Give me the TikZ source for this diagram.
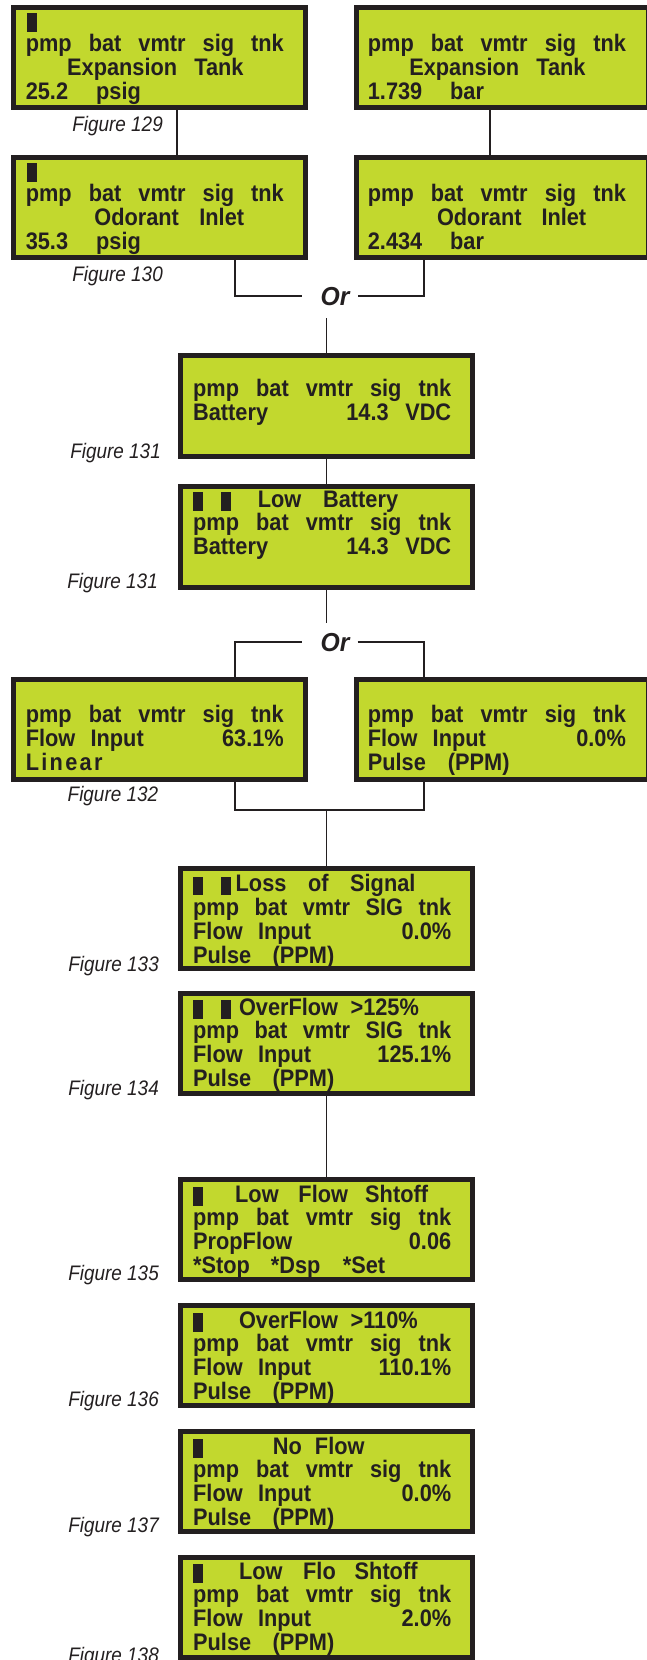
\documentclass[tikz,border=0pt]{standalone}
\usepackage{fontspec}
\setmainfont{Liberation Sans}
\newfontfamily\lcdfont{Liberation Sans}[FakeStretch=0.91]
\newfontfamily\figfont{Liberation Sans}[FakeStretch=0.9]
\newfontfamily\orfont{Liberation Sans}[FakeStretch=0.95]
\usetikzlibrary{calc}
\definecolor{lcdgreen}{RGB}{194,216,46}
\definecolor{ink}{RGB}{35,31,32}
\newcommand\lcdat[2]{\rlap{\hspace*{#1pt}#2}}
\newcommand\lcdcur{\rule[-3.5pt]{10pt}{18.5pt}}
\newcommand\lcdlines[4]{\vtop{\baselineskip=23.8pt\lineskiplimit=-50pt\lineskip=0pt
 \hbox to 258pt{#1}\hbox to 258pt{#2}\hbox to 258pt{#3}\hbox to 258pt{#4}}}
\newcommand\pmpline{pmp\hfil bat\hfil vmtr\hfil sig\hfil tnk}
\newcommand\pmpSIG{pmp\hfil bat\hfil vmtr\hfil SIG\hfil tnk}
\newcommand\flowline[1]{\lcdat{0}{Flow}\lcdat{64.8}{Input}\hfil #1}
\newcommand\pulseline{\lcdat{0}{Pulse}\lcdat{79.5}{(PPM)}\hfil}
\newcommand\linearsp{L\kern2.3pt i\kern2.3pt n\kern2.3pt e\kern2.3pt a\kern2.3pt r}
\tikzset{
  lcdbox/.style={draw=ink, fill=lcdgreen, line width=5pt, minimum width=292pt,
    minimum height=100pt, inner sep=0pt, anchor=north west},
  lcdtxt/.style={inner sep=0pt, anchor=base west, text=ink,
    font=\lcdfont\bfseries\fontsize{23.9}{23.8}\selectfont},
  figlbl/.style={inner sep=0pt, anchor=base east, text=ink,
    font=\figfont\itshape\fontsize{21}{21}\selectfont},
  orlbl/.style={inner sep=0pt, text=ink, font=\orfont\bfseries\itshape\fontsize{26}{26}\selectfont,
    text height=18pt, text depth=0pt, minimum width=55.6pt},
  conn/.style={draw=ink, line width=1.8pt}
}
\begin{document}
\begin{tikzpicture}[x=1pt,y=-1pt]
\useasboundingbox (0,0) rectangle (647,1660);
\clip (0,0) rectangle (647,1660);
\fill[white] (0,0) rectangle (647,1660);

\coordinate (xa) at (176.6,0);
\coordinate (xb) at (489.8,0);
\coordinate (xl) at (235,0);
\coordinate (xr) at (424,0);
\coordinate (jn) at (326.5,810);

% boxes (anchor is the outer corner of the border)
\node[lcdbox] (L1) at (11,5) {};
\node[lcdbox] (R1) at (354,5) {};
\node[lcdbox] (L2) at (11,155) {};
\node[lcdbox] (R2) at (354,155) {};
\node[lcdbox, minimum height=101pt] (B3) at (178,353) {};
\node[lcdbox, minimum height=101pt] (B4) at (178,484) {};
\node[lcdbox] (L5) at (11,677) {};
\node[lcdbox] (R5) at (354,677) {};
\node[lcdbox] (B6) at (178,866) {};
\node[lcdbox] (B7) at (178,991) {};
\node[lcdbox] (B8) at (178,1177) {};
\node[lcdbox] (B9) at (178,1303) {};
\node[lcdbox] (B10) at (178,1429) {};
\node[lcdbox] (B11) at (178,1555) {};

% texts
\node[lcdtxt] (tL1) at (25.6,28) {\lcdlines{\lcdat{1}{\lcdcur}\hfil}{\pmpline}{\lcdat{41.4}{Expansion}\lcdat{168.5}{Tank}\hfil}{\lcdat{0}{25.2}\lcdat{70.4}{psig}\hfil}};
\node[lcdtxt] (tR1) at (367.7,28) {\lcdlines{\hfil}{\pmpline}{\lcdat{41.4}{Expansion}\lcdat{168.5}{Tank}\hfil}{\lcdat{0}{1.739}\lcdat{82.3}{bar}\hfil}};
\node[lcdtxt] (tL2) at (25.6,178) {\lcdlines{\lcdat{1}{\lcdcur}\hfil}{\pmpline}{\lcdat{68.6}{Odorant}\lcdat{173.6}{Inlet}\hfil}{\lcdat{0}{35.3}\lcdat{70.4}{psig}\hfil}};
\node[lcdtxt] (tR2) at (367.7,178) {\lcdlines{\hfil}{\pmpline}{\lcdat{69.1}{Odorant}\lcdat{173.6}{Inlet}\hfil}{\lcdat{0}{2.434}\lcdat{82.3}{bar}\hfil}};
\node[lcdtxt] (tB3) at (193,373) {\lcdlines{\hfil}{\pmpline}{\lcdat{0}{Battery}\hfil 14.3\hspace{16.6pt}VDC}{\hfil}};
\node[lcdtxt] (tB4) at (193,507) {\lcdlines{\lcdat{0}{\lcdcur}\lcdat{28}{\lcdcur}\lcdat{64.7}{Low}\lcdat{130}{Battery}\hfil}{\pmpline}{\lcdat{0}{Battery}\hfil 14.3\hspace{16.6pt}VDC}{\hfil}};
\node[lcdtxt] (tL5) at (25.6,699) {\lcdlines{\hfil}{\pmpline}{\flowline{63.1\%}}{\lcdat{0}{\linearsp}\hfil}};
\node[lcdtxt] (tR5) at (367.7,699) {\lcdlines{\hfil}{\pmpline}{\flowline{0.0\%}}{\lcdat{0}{Pulse}\lcdat{80}{(PPM)}\hfil}};
\node[lcdtxt] (tB6) at (193,891.7) {\lcdlines{\lcdat{0}{\lcdcur}\lcdat{28}{\lcdcur}\lcdat{42.5}{Loss}\lcdat{115}{of}\lcdat{157}{Signal}\hfil}{\pmpSIG}{\flowline{0.0\%}}{\pulseline}};
\node[lcdtxt] (tB7) at (193,1015) {\lcdlines{\lcdat{0}{\lcdcur}\lcdat{28}{\lcdcur}\lcdat{45.8}{OverFlow}\lcdat{157.4}{>125\%}\hfil}{\pmpSIG}{\flowline{125.1\%}}{\pulseline}};
\node[lcdtxt] (tB8) at (193,1202) {\lcdlines{\lcdat{0}{\lcdcur}\lcdat{42}{Low}\lcdat{105.3}{Flow}\lcdat{172}{Shtoff}\hfil}{\pmpline}{\lcdat{0}{PropFlow}\hfil 0.06}{\lcdat{0}{*Stop}\lcdat{77.7}{*Dsp}\lcdat{149.7}{*Set}\hfil}};
\node[lcdtxt] (tB9) at (193,1328) {\lcdlines{\lcdat{0}{\lcdcur}\lcdat{45.8}{OverFlow}\lcdat{157.4}{>110\%}\hfil}{\pmpline}{\flowline{110.1\%}}{\pulseline}};
\node[lcdtxt] (tB10) at (193,1454) {\lcdlines{\lcdat{0}{\lcdcur}\lcdat{79.7}{No}\lcdat{121.8}{Flow}\hfil}{\pmpline}{\flowline{0.0\%}}{\pulseline}};
\node[lcdtxt] (tB11) at (193,1579) {\lcdlines{\lcdat{0}{\lcdcur}\lcdat{45.8}{Low}\lcdat{110}{Flo}\lcdat{161.5}{Shtoff}\hfil}{\pmpline}{\flowline{2.0\%}}{\pulseline}};

% figure labels
\node[figlbl] (f129) at (163,131) {Figure 129};
\node[figlbl] (f130) at (163,281) {Figure 130};
\node[figlbl] (f131a) at (161,458) {Figure 131};
\node[figlbl] (f131b) at (158,588) {Figure 131};
\node[figlbl] (f132) at (158.3,801.7) {Figure 132};
\node[figlbl] (f133) at (159,971) {Figure 133};
\node[figlbl] (f134) at (159,1095.7) {Figure 134};
\node[figlbl] (f135) at (159,1280.7) {Figure 135};
\node[figlbl] (f136) at (159,1406) {Figure 136};
\node[figlbl] (f137) at (159,1532.7) {Figure 137};
\node[figlbl] (f138) at (159,1662) {Figure 138};

% Or labels
\node[orlbl, inner ysep=13pt] (or1) at (329.5,296) {\hspace*{11pt}Or};
\node[orlbl, inner ysep=10pt] (or2) at (329.5,642) {\hspace*{11pt}Or};

% connectors
\draw[conn] (L1.south -| xa) -- (L2.north -| xa);
\draw[conn] (R1.south -| xb) -- (R2.north -| xb);
\draw[conn] (L2.south -| xl) |- (or1.west);
\draw[conn] (R2.south -| xr) |- (or1.east);
\draw[conn] (or1.south -| B3.north) -- (B3.north);
\draw[conn] (B3.south) -- (B4.north);
\draw[conn] (B4.south) -- (or2.north -| B4.south);
\draw[conn] (or2.west) -| (L5.north -| xl);
\draw[conn] (or2.east) -| (R5.north -| xr);
\draw[conn] (L5.south -| xl) |- (jn) -| (R5.south -| xr);
\draw[conn] (jn) -- (B6.north);
\draw[conn] (B7.south) -- (B8.north);
\end{tikzpicture}
\end{document}
